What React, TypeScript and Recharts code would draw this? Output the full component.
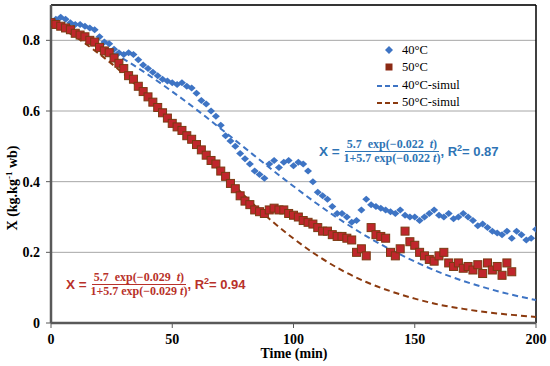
import React from 'react';
import { ComposedChart, Scatter, Line, XAxis, YAxis, CartesianGrid, ReferenceLine, Label } from 'recharts';

// measured moisture, read every 2 min
const X40 = [
    0.85, 0.86, 0.865, 0.86, 0.85, 0.845, 0.845, 0.84, 0.835, 0.83,
    0.81, 0.795, 0.79, 0.775, 0.765, 0.76, 0.765, 0.76, 0.745, 0.73,
    0.72, 0.71, 0.70, 0.69, 0.685, 0.68, 0.675, 0.68, 0.67, 0.665,
    0.65, 0.63, 0.62, 0.60, 0.585, 0.56, 0.53, 0.515, 0.50, 0.48,
    0.465, 0.45, 0.43, 0.42, 0.41, 0.45, 0.46, 0.44, 0.455, 0.46,
    0.445, 0.455, 0.45, 0.43, 0.40, 0.37, 0.36, 0.35, 0.33, 0.31,
    0.31, 0.30, 0.285, 0.29, 0.32, 0.35, 0.335, 0.33, 0.325, 0.32,
    0.315, 0.31, 0.32, 0.305, 0.30, 0.30, 0.29, 0.30, 0.31, 0.32,
    0.305, 0.30, 0.31, 0.295, 0.30, 0.31, 0.30, 0.29, 0.275, 0.28,
    0.27, 0.26, 0.255, 0.25, 0.26, 0.24, 0.26, 0.25, 0.235, 0.24,
    0.265,
];
const X50 = [
    0.85, 0.845, 0.84, 0.835, 0.83, 0.82, 0.815, 0.81, 0.80, 0.795,
    0.78, 0.77, 0.765, 0.75, 0.735, 0.72, 0.70, 0.69, 0.67, 0.655,
    0.64, 0.625, 0.61, 0.595, 0.58, 0.565, 0.555, 0.545, 0.53, 0.52,
    0.505, 0.49, 0.475, 0.46, 0.45, 0.43, 0.415, 0.395, 0.38, 0.36,
    0.345, 0.335, 0.32, 0.315, 0.31, 0.32, 0.325, 0.32, 0.32, 0.31,
    0.305, 0.30, 0.29, 0.285, 0.28, 0.27, 0.26, 0.26, 0.25, 0.245,
    0.245, 0.24, 0.235, 0.20, 0.21, 0.19, 0.27, 0.25, 0.245, 0.24,
    0.20, 0.19, 0.21, 0.26, 0.23, 0.22, 0.20, 0.19, 0.18, 0.175,
    0.19, 0.20, 0.17, 0.16, 0.17, 0.155, 0.16, 0.15, 0.165, 0.14,
    0.17, 0.15, 0.16, 0.135, 0.17, 0.145,
];
const STEP = 2;

// simulated curves
const SIM_T = [0, 10, 20, 30, 40, 50, 60, 70, 80, 90, 100, 110, 120, 130, 140, 150, 160, 170, 180, 190, 200];
const SIM40 = [0.851, 0.821, 0.786, 0.747, 0.703, 0.655, 0.604, 0.550, 0.495, 0.440, 0.387, 0.336, 0.289, 0.246, 0.208, 0.174, 0.144, 0.119, 0.098, 0.080, 0.065];
const SIM50 = [0.851, 0.810, 0.761, 0.705, 0.641, 0.572, 0.500, 0.428, 0.359, 0.295, 0.239, 0.190, 0.149, 0.116, 0.090, 0.069, 0.052, 0.040, 0.030, 0.023, 0.017];

const X_TICKS = [0, 50, 100, 150, 200];
const Y_TICKS = [0, 0.2, 0.4, 0.6, 0.8];

const BLUE = '#3E74C4';
const RED = '#C0262C';
const BROWN = '#8B3A0F';

const pts40 = X40.map((x, i) => ({ t: i * STEP, x }));
const pts50 = X50.map((x, i) => ({ t: i * STEP, x }));
const sim40 = SIM_T.map((t, i) => ({ t, x: SIM40[i] }));
const sim50 = SIM_T.map((t, i) => ({ t, x: SIM50[i] }));

const tickStyle = { fontFamily: 'Liberation Serif', fontWeight: 'bold', fontSize: 14, fill: '#000' };

const Diamond = (p: any) => (
    <polygon points={`${p.cx - 4},${p.cy} ${p.cx},${p.cy - 3.5} ${p.cx + 4},${p.cy} ${p.cx},${p.cy + 3.5}`} fill={BLUE} />
);
const Square = (p: any) => (
    <rect x={p.cx - 4} y={p.cy - 4} width={8} height={8} fill={RED} stroke="#7A3A12" strokeWidth={1} />
);

function Formula({ k, r2, color, left, top }: any) {
    return (
        <div style={{ position: 'absolute', left, top, color, display: 'flex', alignItems: 'center', fontFamily: 'Liberation Sans', fontWeight: 'bold', fontSize: 13.5 }}>
            <span style={{ whiteSpace: 'pre' }}>X = </span>
            <span style={{ display: 'inline-flex', flexDirection: 'column', alignItems: 'center', fontFamily: 'Liberation Serif', fontSize: 12, lineHeight: '11px' }}>
                <span style={{ borderBottom: `1px solid ${color}`, padding: '0 2px 1px', whiteSpace: 'pre' }}>{`5.7  exp(\u22120.${k}  `}<i>t</i>)</span>
                <span style={{ whiteSpace: 'pre', paddingTop: 1 }}>{`1+5.7 exp(\u22120.${k} `}<i>t</i>)</span>
            </span>
            <span style={{ whiteSpace: 'pre', fontSize: 13 }}>, R<sup style={{ fontSize: 9 }}>2</sup>= {r2}</span>
        </div>
    );
}

const legendText = { fontFamily: 'Liberation Serif', fontSize: 12.5, color: '#000', position: 'absolute' as const, left: 402, lineHeight: '14px' };

export default function App() {
    return (
        <div style={{ position: 'absolute', left: 0, top: 0, width: 550, height: 366, background: '#fff' }}>
            <ComposedChart width={550} height={366} margin={{ top: 5, right: 14, bottom: 0, left: 0 }}>
                <CartesianGrid vertical={false} stroke="#A6A6A6" />
                <XAxis type="number" dataKey="t" domain={[0, 200]} ticks={X_TICKS} allowDataOverflow
                    axisLine={{ stroke: '#595959', strokeWidth: 2.5 }} tickLine={{ stroke: '#595959' }}
                    tickSize={5} tickMargin={6} height={43} tick={tickStyle}>
                    <Label content={() => (
                        <text x={294} y={358} textAnchor="middle" style={tickStyle}>Time (min)</text>
                    )} />
                </XAxis>
                <YAxis type="number" domain={[0, 0.9]} ticks={Y_TICKS} allowDataOverflow width={51}
                    tickFormatter={(v: number) => (v === 0 ? '0' : v.toFixed(1))}
                    axisLine={{ stroke: '#595959', strokeWidth: 2.5 }} tickLine={{ stroke: '#595959' }}
                    tickSize={5} tickMargin={6} tick={tickStyle}>
                    <Label content={() => (
                        <text x={17} y={188} transform="rotate(-90 17 188)" textAnchor="middle" style={tickStyle}>
                            X (kg.kg<tspan dy={-5} fontSize={9}>-1</tspan><tspan dy={5}> wb)</tspan>
                        </text>
                    )} />
                </YAxis>
                <ReferenceLine y={0.9} stroke="#000" strokeWidth={1.5} />
                <ReferenceLine x={200} stroke="#000" strokeWidth={1.5} />
                <Scatter data={pts40} dataKey="x" shape={Diamond} isAnimationActive={false} />
                <Scatter data={pts50} dataKey="x" shape={Square} isAnimationActive={false} />
                <Line data={sim40} dataKey="x" type="monotone" stroke={BLUE} strokeWidth={2} strokeDasharray="6 4" dot={false} isAnimationActive={false} />
                <Line data={sim50} dataKey="x" type="monotone" stroke={BROWN} strokeWidth={2} strokeDasharray="6 4" dot={false} isAnimationActive={false} />
            </ComposedChart>

            <svg style={{ position: 'absolute', left: 0, top: 0 }} width={550} height={366}>
                <polygon points="385,50 389,46 393,50 389,54" fill={BLUE} />
                <rect x={385.5} y={63.5} width={7} height={7} fill="#8B2A14" />
                <line x1={377} y1={86} x2={401} y2={86} stroke={BLUE} strokeWidth={2} strokeDasharray="5 3" />
                <line x1={377} y1={103} x2={401} y2={103} stroke={BROWN} strokeWidth={2} strokeDasharray="5 3" />
            </svg>
            <div style={{ ...legendText, top: 43 }}>40°C</div>
            <div style={{ ...legendText, top: 60 }}>50°C</div>
            <div style={{ ...legendText, top: 78 }}>40°C-simul</div>
            <div style={{ ...legendText, top: 95 }}>50°C-simul</div>

            <Formula k="022" r2="0.87" color="#2E74B5" left={319} top={139} />
            <Formula k="029" r2="0.94" color="#B8312A" left={66} top={272} />
        </div>
    );
}
